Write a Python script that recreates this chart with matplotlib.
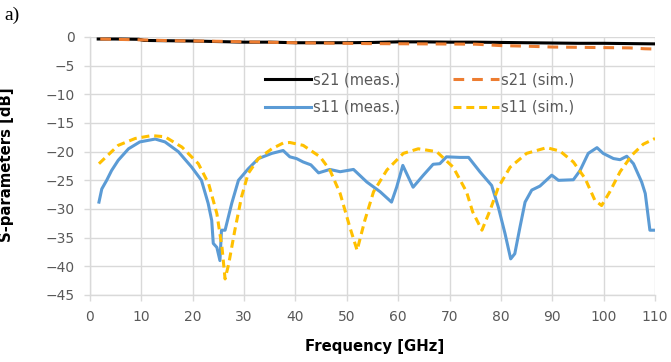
#!/usr/bin/python
# -*- encoding: UTF-8 -*-
'''S-parameter plot: measured vs. simulated s21 / s11'''

import matplotlib
matplotlib.use('Agg')
import matplotlib.pyplot as plt

#==============================================================================
# data
f_s21_meas = [1.6, 5, 9.5, 10.5, 15, 20, 25, 30, 35, 40, 45, 50, 55, 60,
              65, 70, 75, 80, 85, 90, 95, 100, 105, 110]
s21_meas = [-0.35, -0.35, -0.4, -0.6, -0.65, -0.7, -0.8, -0.9, -0.9, -1.0,
            -1.0, -1.0, -0.95, -0.85, -0.85, -0.9, -0.9, -0.95, -1.0, -1.05,
            -1.1, -1.1, -1.15, -1.2]

f_s21_sim = [2, 10, 16, 25, 32, 40, 54, 65, 75, 80, 85, 90, 95, 100, 105,
             108, 110]
s21_sim = [-0.35, -0.5, -0.65, -0.75, -0.87, -1.0, -1.15, -1.2, -1.25, -1.5,
           -1.6, -1.75, -1.8, -1.85, -1.9, -2.05, -2.1]

f_s11_meas = [1.75, 2.3, 3.25, 4.2, 5.5, 7.5, 9.7, 12.7, 14.6, 17.2, 19.8,
              21.7, 23.0, 23.7, 24.0, 24.7, 25.3, 25.6, 26.3, 27.6, 28.9,
              30.8, 32.8, 35.4, 37.6, 38.9, 40.2, 41.5, 43.0, 44.5, 46.7,
              48.7, 51.3, 53.9, 56.5, 58.7, 59.7, 60.9, 62.9, 64.9, 66.8,
              68.1, 69.4, 72.0, 73.7, 75.9, 78.2, 79.5, 80.8, 81.9, 82.7,
              83.7, 84.7, 86.0, 87.6, 89.9, 91.2, 94.1, 95.4, 97.0, 98.7,
              99.9, 101.9, 103.2, 104.5, 105.8, 107.4, 108.1, 109.0, 110.0]
s11_meas = [-28.8, -26.5, -25.0, -23.3, -21.5, -19.5, -18.3, -17.8, -18.3,
            -20.0, -22.7, -25.0, -29.0, -32.0, -36.0, -36.7, -39.0, -33.7,
            -33.7, -29.0, -25.0, -23.0, -21.2, -20.3, -19.8, -20.9, -21.2,
            -21.8, -22.3, -23.7, -23.1, -23.5, -23.1, -25.3, -27.0, -28.8,
            -26.2, -22.4, -26.2, -24.1, -22.2, -22.1, -20.9, -21.0, -21.0,
            -23.5, -25.9, -29.7, -34.3, -38.7, -37.8, -33.2, -28.8, -26.7,
            -26.0, -24.1, -25.0, -24.9, -23.3, -20.3, -19.3, -20.3, -21.2,
            -21.4, -20.8, -22.1, -25.3, -27.3, -33.7, -33.7]

f_s11_sim = [1.75, 5.5, 8.8, 12.0, 14.6, 17.9, 21.1, 23.1, 24.7, 25.7, 26.3,
             27.0, 28.2, 29.5, 30.8, 32.8, 35.4, 37.6, 38.9, 41.5, 44.8,
             46.7, 48.7, 50.6, 52.0, 53.5, 55.2, 57.8, 61.0, 63.9, 67.5,
             70.7, 73.3, 74.5, 76.3, 77.9, 79.5, 81.8, 85.0, 88.9, 91.5,
             94.1, 96.4, 98.3, 99.6, 101.2, 103.2, 105.5, 107.7, 110.0]
s11_sim = [-22.1, -18.9, -17.7, -17.2, -17.4, -19.2, -22.1, -25.6, -30.8,
           -36.7, -42.2, -39.6, -33.7, -27.9, -23.8, -21.2, -19.5, -18.5,
           -18.4, -18.9, -20.9, -23.2, -27.3, -33.2, -37.2, -32.0, -27.0,
           -23.2, -20.3, -19.5, -20.0, -22.7, -27.0, -30.5, -33.7, -30.2,
           -26.2, -22.7, -20.3, -19.3, -19.9, -21.8, -24.7, -28.5, -29.4,
           -27.0, -23.5, -20.6, -18.7, -17.7]

x_ticks = list(range(0, 111, 10))
y_ticks = list(range(-45, 1, 5))

#==============================================================================
def main():
    tick_clr = '#595959'
    grid_clr = '#D9D9D9'
    lw = 2.2

    fig = plt.figure(figsize=(6.71, 3.62), dpi=100)
    ax = fig.add_axes([0.1341, 0.1851, 0.8421, 0.7127])

    ax.plot(f_s21_meas, s21_meas, color='black', lw=lw,
            label='s21 (meas.)', zorder=4)
    ax.plot(f_s11_meas, s11_meas, color='#5B9BD5', lw=lw,
            label='s11 (meas.)', zorder=3)
    ax.plot(f_s21_sim, s21_sim, color='#ED7D31', lw=lw,
            dashes=(3.5, 2.6), label='s21 (sim.)', zorder=5)
    ax.plot(f_s11_sim, s11_sim, color='#FFC000', lw=lw,
            dashes=(2.6, 1.6), label='s11 (sim.)', zorder=3)

    ax.set_xlim(0, 110)
    ax.set_ylim(-45, 0)
    ax.set_xticks(x_ticks)
    ax.set_yticks(y_ticks)
    ax.grid(True, color=grid_clr, lw=1.0)
    ax.set_axisbelow(True)
    for side in ('top', 'right'):
        ax.spines[side].set_visible(False)
    for side in ('left', 'bottom'):
        ax.spines[side].set_color(grid_clr)
        ax.spines[side].set_linewidth(1.0)
    ax.tick_params(axis='both', colors=grid_clr, length=4, width=1.0,
                   labelcolor=tick_clr, labelsize=10)
    ax.tick_params(axis='x', pad=7)
    ax.tick_params(axis='y', pad=7)

    ax.set_xlabel('Frequency [GHz]', fontsize=10.7, fontweight='bold')
    ax.set_ylabel('S-parameters [dB]', fontsize=10.7, fontweight='bold')
    ax.xaxis.set_label_coords(0.503, -0.172)
    ax.yaxis.set_label_coords(-0.135, 0.504)

    h, l = ax.get_legend_handles_labels()
    leg = ax.legend(h, l, ncol=2, frameon=False, loc='center',
                    bbox_to_anchor=(0.583, 0.781), handlelength=3.15,
                    columnspacing=3.6, labelspacing=0.85, handletextpad=0.15,
                    prop={'size': 10.5})
    for txt in leg.get_texts():
        txt.set_color(tick_clr)

    fig.text(0.006, 0.982, 'a)', family='Liberation Serif', fontsize=14,
             va='top', ha='left')

    fig.savefig('out.png', dpi=100)
# END main

#==============================================================================
if __name__ == '__main__': main()
